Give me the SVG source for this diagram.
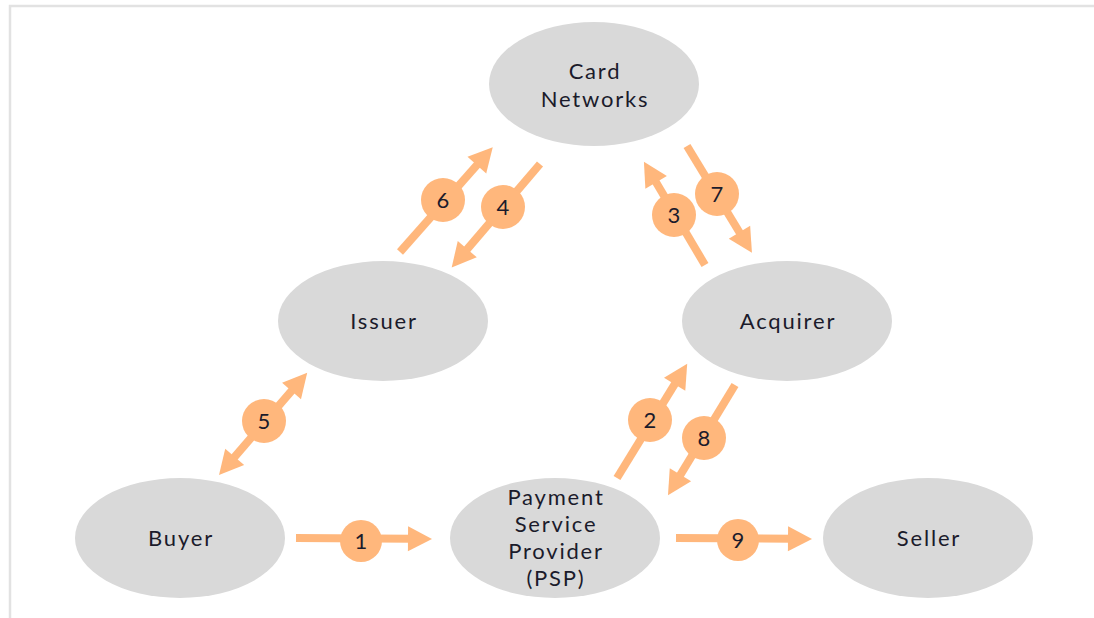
<svg xmlns="http://www.w3.org/2000/svg" width="1094" height="618" viewBox="0 0 1094 618">
<style>
.node{fill:#d9d9d9}
.lbl{font-family:Lato,"Noto Sans",sans-serif;font-size:22px;letter-spacing:1.8px;fill:#1b1b2b;text-anchor:middle}
.num{font-family:Lato,"Noto Sans",sans-serif;font-size:22px;fill:#1b1b2b;text-anchor:middle}
.shaft{stroke:#ffb77c;stroke-width:8;fill:none}
.head{fill:#ffb77c}
.badge{fill:#ffb77c}
.frame{stroke:#e2e2e2;stroke-width:2.5;fill:none}
</style>
<rect width="1094" height="618" fill="#ffffff"/>
<path class="frame" d="M10,618 V6 H1094"/>

<g id="card-networks"><ellipse class="node" cx="594" cy="84" rx="105" ry="62"/><text class="lbl" x="595" y="79">Card</text><text class="lbl" x="595" y="107">Networks</text></g>
<g id="issuer"><ellipse class="node" cx="383" cy="321" rx="105" ry="60"/><text class="lbl" x="384" y="329">Issuer</text></g>
<g id="acquirer"><ellipse class="node" cx="787" cy="321" rx="105" ry="60"/><text class="lbl" x="788" y="329">Acquirer</text></g>
<g id="buyer"><ellipse class="node" cx="180" cy="538" rx="105" ry="60"/><text class="lbl" x="181" y="546">Buyer</text></g>
<g id="psp"><ellipse class="node" cx="555" cy="538" rx="105" ry="60"/><text class="lbl" x="556" y="505">Payment</text><text class="lbl" x="556" y="532">Service</text><text class="lbl" x="556" y="559">Provider</text><text class="lbl" x="556" y="586">(PSP)</text></g>
<g id="seller"><ellipse class="node" cx="928" cy="538" rx="105" ry="60"/><text class="lbl" x="929" y="546">Seller</text></g>

<g id="connectors">
<g id="a1" transform="translate(296 538) rotate(0.4)"><line class="shaft" x1="0" y1="0" x2="116" y2="0"/><path class="head" d="M112,-12.5 L136,0 L112,12.5 Z"/></g>
<g id="a2" transform="translate(617 478) rotate(-58.4)"><line class="shaft" x1="0" y1="0" x2="114" y2="0"/><path class="head" d="M110,-12.5 L134,0 L110,12.5 Z"/></g>
<g id="a3" transform="translate(705 265) rotate(-120.6)"><line class="shaft" x1="0" y1="0" x2="100" y2="0"/><path class="head" d="M96,-12.5 L120,0 L96,12.5 Z"/></g>
<g id="a4" transform="translate(540 164) rotate(130.5)"><line class="shaft" x1="0" y1="0" x2="116" y2="0"/><path class="head" d="M112,-12.5 L136,0 L112,12.5 Z"/></g>
<g id="a5" transform="translate(219 475) rotate(-49.2)"><line class="shaft" x1="20" y1="0" x2="115" y2="0"/><path class="head" d="M24,-12.5 L0,0 L24,12.5 Z"/><path class="head" d="M111,-12.5 L135,0 L111,12.5 Z"/></g>
<g id="a6" transform="translate(400 252) rotate(-48.5)"><line class="shaft" x1="0" y1="0" x2="120" y2="0"/><path class="head" d="M116,-12.5 L140,0 L116,12.5 Z"/></g>
<g id="a7" transform="translate(687 146) rotate(58.7)"><line class="shaft" x1="0" y1="0" x2="105" y2="0"/><path class="head" d="M101,-12.5 L125,0 L101,12.5 Z"/></g>
<g id="a8" transform="translate(735 385) rotate(121.3)"><line class="shaft" x1="0" y1="0" x2="109" y2="0"/><path class="head" d="M105,-12.5 L129,0 L105,12.5 Z"/></g>
<g id="a9" transform="translate(676 538) rotate(0.4)"><line class="shaft" x1="0" y1="0" x2="116" y2="0"/><path class="head" d="M112,-12.5 L136,0 L112,12.5 Z"/></g>

<g id="b1"><circle class="badge" cx="361" cy="541" r="21"/><text class="num" x="361" y="549">1</text></g>
<g id="b2"><circle class="badge" cx="650" cy="420" r="22"/><text class="num" x="650" y="428">2</text></g>
<g id="b3"><circle class="badge" cx="674" cy="215" r="22"/><text class="num" x="674" y="223">3</text></g>
<g id="b4"><circle class="badge" cx="503" cy="207" r="22"/><text class="num" x="503" y="215">4</text></g>
<g id="b5"><circle class="badge" cx="264" cy="421" r="22"/><text class="num" x="264" y="429">5</text></g>
<g id="b6"><circle class="badge" cx="443" cy="200" r="22"/><text class="num" x="443" y="208">6</text></g>
<g id="b7"><circle class="badge" cx="717" cy="194" r="22"/><text class="num" x="717" y="202">7</text></g>
<g id="b8"><circle class="badge" cx="704" cy="438" r="22"/><text class="num" x="704" y="446">8</text></g>
<g id="b9"><circle class="badge" cx="738" cy="540" r="21"/><text class="num" x="738" y="548">9</text></g>
</g>
</svg>
